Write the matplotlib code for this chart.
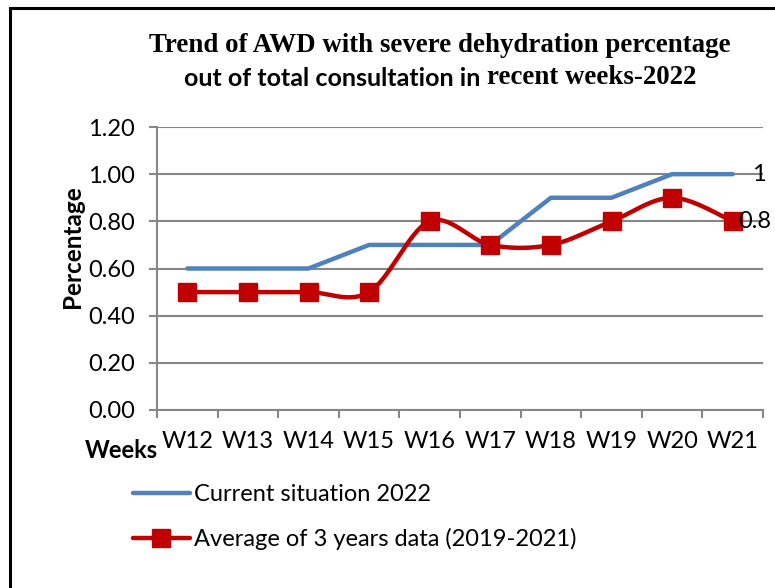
import numpy as np
import matplotlib
matplotlib.use("Agg")
import matplotlib.pyplot as plt
from matplotlib.lines import Line2D
from matplotlib.patches import Rectangle

weeks = ["W12", "W13", "W14", "W15", "W16", "W17", "W18", "W19", "W20", "W21"]
current_2022 = [0.6, 0.6, 0.6, 0.7, 0.7, 0.7, 0.9, 0.9, 1.0, 1.0]
avg_3yrs = [0.5, 0.5, 0.5, 0.5, 0.8, 0.7, 0.7, 0.8, 0.9, 0.8]
yticks = [0.0, 0.2, 0.4, 0.6, 0.8, 1.0, 1.2]
end_labels = ["1", "0.8"]

BLUE = "#4F81BD"
RED = "#C00000"
GRID = "#868686"
SANS = ["Lato", "DejaVu Sans"]
SERIF = ["Liberation Serif", "DejaVu Serif"]
FS = 17

W, H = 775, 588
fig = plt.figure(figsize=(W / 100, H / 100), dpi=100)

# outer frame
fig.patches.append(Rectangle((10 / W, -0.1), 1.2, 1 - 8 / H + 0.1, transform=fig.transFigure,
                             fill=False, edgecolor="black", linewidth=2.2))

L, R, T, B = 157, 763, 127, 410
ax = fig.add_axes([L / W, 1 - B / H, (R - L) / W, (B - T) / H])

x = np.arange(len(weeks))


def catmull_rom(xs, ys, n=30):
    xs = np.asarray(xs, float)
    ys = np.asarray(ys, float)
    px = np.concatenate([[xs[0]], xs, [xs[-1]]])
    py = np.concatenate([[ys[0]], ys, [ys[-1]]])
    outx, outy = [], []
    t = np.linspace(0, 1, n)
    for i in range(1, len(px) - 2):
        p0x, p1x, p2x, p3x = px[i - 1:i + 3]
        p0y, p1y, p2y, p3y = py[i - 1:i + 3]
        c1x = p1x + (p2x - p0x) / 6
        c1y = p1y + (p2y - p0y) / 6
        c2x = p2x - (p3x - p1x) / 6
        c2y = p2y - (p3y - p1y) / 6
        bx = (1 - t) ** 3 * p1x + 3 * (1 - t) ** 2 * t * c1x + 3 * (1 - t) * t ** 2 * c2x + t ** 3 * p2x
        by = (1 - t) ** 3 * p1y + 3 * (1 - t) ** 2 * t * c1y + 3 * (1 - t) * t ** 2 * c2y + t ** 3 * p2y
        outx.extend(bx)
        outy.extend(by)
    return np.array(outx), np.array(outy)


ax.plot(x, current_2022, color=BLUE, linewidth=3.2, solid_capstyle="round", zorder=3)
sx, sy = catmull_rom(x, avg_3yrs)
ax.plot(sx, sy, color=RED, linewidth=3.2, solid_capstyle="round", zorder=4)
ax.plot(x, avg_3yrs, linestyle="none", marker="s", markersize=12.5, color=RED, zorder=5)

ax.annotate(end_labels[0], (x[-1], current_2022[-1]), xytext=(14, 0), textcoords="offset points",
            ha="left", va="center", fontsize=FS, family=SANS, zorder=6, annotation_clip=False)
ax.annotate(end_labels[1], (x[-1], avg_3yrs[-1]), xytext=(4, 0), textcoords="offset points",
            ha="left", va="center", fontsize=FS, family=SANS, zorder=6, annotation_clip=False)

ax.set_xlim(-0.5, len(weeks) - 0.5)
ax.set_ylim(0, 1.2)
ax.set_yticks(yticks)
ax.set_yticklabels([f"{v:.2f}" for v in yticks], fontsize=FS, family=SANS)
ax.set_xticks(x)
ax.set_xticklabels(weeks, fontsize=FS, family=SANS)
ax.set_xticks(np.arange(-0.5, len(weeks)), minor=True)
ax.tick_params(axis="x", which="major", length=0, pad=15)
ax.tick_params(axis="x", which="minor", length=6, width=1.5, color=GRID, direction="out")
ax.tick_params(axis="y", length=6, width=1.5, color=GRID, direction="out", pad=10)
ax.grid(axis="y", color=GRID, linewidth=1.5)
ax.set_axisbelow(True)
for s in ["top", "right"]:
    ax.spines[s].set_visible(False)
for s in ["left", "bottom"]:
    ax.spines[s].set_color(GRID)
    ax.spines[s].set_linewidth(1.5)

fig.text(72 / W, 1 - 247 / H, "Percentage", rotation=90, ha="center", va="center",
         fontsize=17.5, fontweight="bold", family=SANS)
fig.text(121 / W, 1 - 450 / H, "Weeks", ha="center", va="center",
         fontsize=FS, fontweight="bold", family=SANS)

# title
cx = 440 / W
fig.text(cx, 1 - 46 / H, "Trend of AWD with severe dehydration percentage", ha="center", va="center",
         fontsize=19.4, fontweight="bold", family=SERIF)
fig.canvas.draw()
renderer = fig.canvas.get_renderer()
t1 = fig.text(0, 1 - 78 / H, "out of total consultation in ", ha="left", va="center",
              fontsize=18, fontweight="bold", family=SANS)
t2 = fig.text(0, 1 - 78 / H, "recent weeks-2022", ha="left", va="center",
              fontsize=19.4, fontweight="bold", family=SERIF)
w1 = t1.get_window_extent(renderer).width
w2 = t2.get_window_extent(renderer).width
start = cx * W - (w1 + w2) / 2
t1.set_x(start / W)
t2.set_x((start + w1) / W)

handles = [Line2D([], [], color=BLUE, linewidth=3.2, solid_capstyle="round"),
           Line2D([], [], color=RED, linewidth=3.2, marker="s", markersize=12.5, solid_capstyle="round")]
fig.legend(handles, ["Current situation 2022", "Average of 3 years data (2019-2021)"],
           loc="upper left", bbox_to_anchor=(133 / W, 1 - 484 / H), frameon=False,
           prop={"family": SANS, "size": FS}, handlelength=2.4, handletextpad=0.2,
           labelspacing=0.98, borderaxespad=0, borderpad=0)

fig.savefig("out.png", dpi=100)
